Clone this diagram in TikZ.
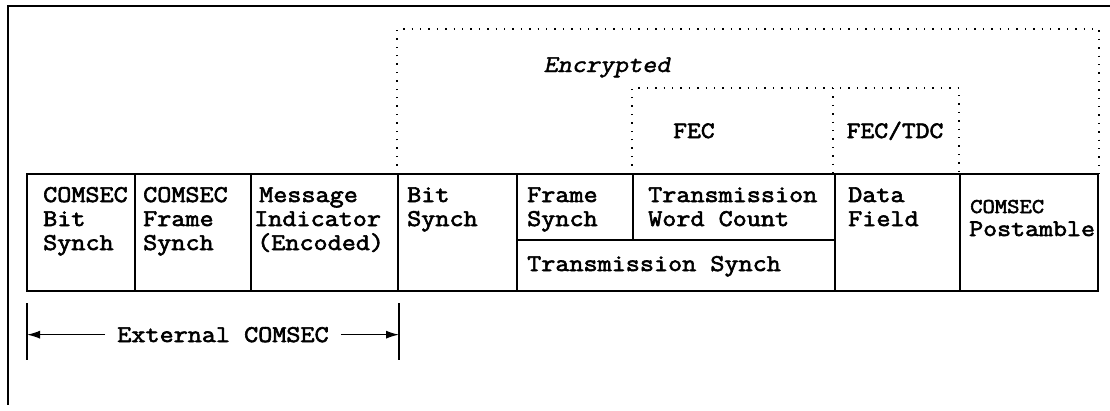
\documentclass[tikz,border=0pt]{standalone}
\usepackage{fontspec}
\newfontfamily\tw[FakeStretch=1.14,FakeBold=2.6]{Latin Modern Mono}
\newfontfamily\twi[FakeStretch=1.14,FakeBold=1.8,FakeSlant=0.2]{Latin Modern Mono}
\usetikzlibrary{arrows.meta}
\begin{document}
\begin{tikzpicture}[x=1pt,y=-1pt,
  lbl/.style={font=\tw\fontsize{24}{24}\selectfont, inner sep=0pt, anchor=base west},
  lblc/.style={font=\tw\fontsize{23.5}{24}\selectfont, inner sep=0pt, anchor=base},
  box/.style={line width=1.2pt},
  grp/.style={line width=1.8pt},
  frame/.style={line width=1.3pt},
  dots/.style={line width=1.4pt, dash pattern=on 1.4pt off 7pt},
  arr/.style={line width=1.3pt, -{Latex[length=13pt,width=8pt]}}]
\useasboundingbox (0,0) rectangle (1110,410);
% outer frame (top and left only)
\draw[frame] (1110,6) -- (8,6) -- (8,405);
% dotted regions
\draw[dots] (397,174) -- (397,29) -- (1099,29) -- (1099,174);
\draw[dots] (632,174) -- (632,88) -- (959,88) -- (959,174);
\draw[dots] (833,88) -- (833,174);
\node[font=\twi\fontsize{24}{24}\selectfont, inner sep=0pt, anchor=base] (enc) at (607,72) {Encrypted};
\node[lblc] (fec) at (694,138) {FEC};
\node[lblc] (fectdc) at (895,138) {FEC/TDC};
% main row
\draw[box] (398,174) rectangle (960,291);
\draw[box] (517,174) -- (517,291);
\draw[box] (835,174) -- (835,291);
\draw[box] (517,240) -- (835,240);
\draw[box] (633,174) -- (633,240);
\draw[grp] (27,174) rectangle (398,291);
\draw[grp] (135,174) -- (135,291);
\draw[grp] (251,174) -- (251,291);
\draw[grp] (960,174) rectangle (1098,291);
% texts
\node[lbl] (a1) at (43,202) {COMSEC};
\node[lbl] (a2) at (43,226) {Bit};
\node[lbl] (a3) at (43,250) {Synch};
\node[lbl] (b1) at (143,202) {COMSEC};
\node[lbl] (b2) at (143,226) {Frame};
\node[lbl] (b3) at (143,250) {Synch};
\node[lbl] (c1) at (259,202) {Message};
\node[lbl] (c2) at (254,226) {Indicator};
\node[lbl] (c3) at (257,250) {(Encoded)};
\node[lbl] (d1) at (407,202) {Bit};
\node[lbl] (d2) at (407,226) {Synch};
\node[lbl] (e1) at (527,202) {Frame};
\node[lbl] (e2) at (527,226) {Synch};
\node[lbl] (f1) at (648,202) {Transmission};
\node[lbl] (f2) at (648,226) {Word Count};
\node[lbl] (g1) at (527,271) {Transmission Synch};
\node[lbl] (h1) at (848,202) {Data};
\node[lbl] (h2) at (848,226) {Field};
\node[lbl, font=\tw\fontsize{21}{24}\selectfont] (p1) at (970,213) {COMSEC};
\node[lbl, font=\tw\fontsize{23.8}{24}\selectfont] (p2) at (969,236) {Postamble};
% External COMSEC span
\coordinate (tL1) at (27,303); \coordinate (tL2) at (27,360);
\coordinate (tR1) at (399,303); \coordinate (tR2) at (399,360);
\draw[box] (tL1) -- (tL2);
\draw[box] (tR1) -- (tR2);
\node[font=\tw\fontsize{24}{24}\selectfont, inner xsep=12pt, inner ysep=0pt, anchor=base] (ext) at (223,342) {External COMSEC};
\draw[arr] (ext.west) -- (ext.west -| tL1);
\draw[arr] (ext.east) -- (ext.east -| tR1);
\end{tikzpicture}
\end{document}
